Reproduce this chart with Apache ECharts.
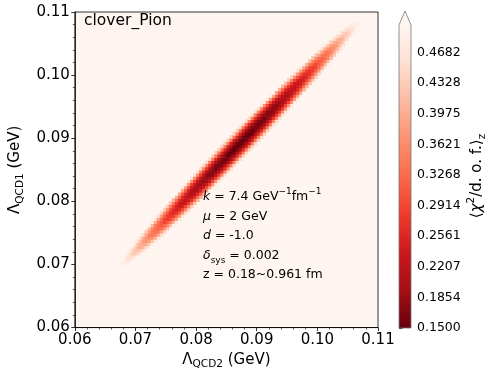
<!DOCTYPE html>
<html>
<head>
<meta charset="utf-8">
<title>clover_Pion chi2</title>
<script src="https://cdn.jsdelivr.net/npm/echarts@6/dist/echarts.min.js"></script>
<style>
  html, body { margin: 0; padding: 0; background: #fff; }
</style>
</head>
<body>
<div id="main" style="width: 491px; height: 375px;"></div>
<script type="text/javascript">
// axis ranges and ticks
var lambda2Range = [0.06, 0.11];
var lambda1Range = [0.06, 0.11];
var colorbarTicks = [0.1500, 0.1854, 0.2207, 0.2561, 0.2914, 0.3268, 0.3621, 0.3975, 0.4328, 0.4682];
var chiRange = [0.15, 0.5];

// matplotlib Reds_r
var redsR = ['#67000d', '#a50f15', '#cb181d', '#ef3b2c', '#fb6a4a', '#fc9272', '#fcbba1', '#fee0d2', '#fff5f0'];

// chi2 map, on a 0.0005 GeV grid.
// row r has Lambda_QCD1 from 0.0695 + r*cell, its first value sits in column rowStart[r]
// (Lambda_QCD2 = 0.06 + col*cell). Cells that are not listed are above the colour range.
var cell = 0.0005;
var firstRowLambda1 = 0.0695;
var rowStart = [15,15,16,16,17,18,19,19,20,21,22,23,24,24,25,26,27,28,29,30,31,32,33,
  33,34,35,36,37,38,39,40,41,42,43,44,45,46,47,48,49,50,51,52,53,54,55,56,57,58,59,60,61,62,63,64,65,
  67,68,69,70,71,72,73,74,75,76,78,79,80,81,82,83,85,86,87,88,90,91,93];
var rowChi2 = [
  [.50],
  [.49,.48,.49],
  [.48,.46,.48],
  [.49,.46,.45,.46,.49],
  [.48,.44,.43,.44,.48],
  [.46,.43,.42,.43,.46],
  [.45,.41,.40,.41,.45],
  [.49,.43,.40,.39,.40,.43,.49],
  [.47,.42,.38,.37,.38,.42,.47],
  [.46,.40,.37,.36,.37,.40,.46],
  [.45,.39,.35,.34,.35,.39,.45],
  [.43,.38,.34,.33,.34,.38,.43],
  [.42,.36,.33,.32,.33,.36,.42],
  [.49,.41,.35,.32,.31,.32,.35,.41,.49],
  [.48,.40,.34,.31,.29,.31,.34,.40,.48],
  [.47,.39,.33,.29,.28,.29,.33,.39,.47],
  [.46,.38,.32,.28,.27,.28,.32,.38,.46],
  [.45,.37,.31,.27,.26,.27,.31,.37,.45],
  [.44,.36,.30,.26,.25,.26,.30,.36,.44],
  [.43,.35,.29,.25,.24,.25,.29,.35,.43],
  [.42,.34,.28,.24,.23,.24,.28,.34,.42],
  [.41,.33,.27,.24,.22,.24,.27,.33,.41],
  [.40,.32,.26,.23,.22,.23,.26,.32,.40],
  [.50,.39,.31,.26,.22,.21,.22,.26,.31,.39,.50],
  [.49,.39,.31,.25,.21,.20,.21,.25,.31,.39,.49],
  [.48,.38,.30,.24,.21,.20,.21,.24,.30,.38,.48],
  [.48,.37,.29,.24,.20,.19,.20,.24,.29,.37,.48],
  [.47,.37,.29,.23,.19,.18,.19,.23,.29,.37,.47],
  [.47,.36,.28,.22,.19,.18,.19,.22,.28,.36,.47],
  [.46,.36,.28,.22,.18,.17,.18,.22,.28,.36,.46],
  [.46,.35,.27,.21,.18,.17,.18,.21,.27,.35,.46],
  [.45,.35,.27,.21,.18,.16,.18,.21,.27,.35,.45],
  [.45,.35,.27,.21,.17,.16,.17,.21,.27,.35,.45],
  [.45,.34,.26,.20,.17,.16,.17,.20,.26,.34,.45],
  [.45,.34,.26,.20,.17,.16,.17,.20,.26,.34,.45],
  [.44,.34,.26,.20,.17,.15,.17,.20,.26,.34,.44],
  [.44,.34,.26,.20,.16,.15,.16,.20,.26,.34,.44],
  [.44,.34,.26,.20,.16,.15,.16,.20,.26,.34,.44],
  [.44,.34,.25,.20,.16,.15,.16,.20,.25,.34,.44],
  [.44,.34,.25,.20,.16,.15,.16,.20,.25,.34,.44],
  [.44,.34,.25,.20,.16,.15,.16,.20,.25,.34,.44],
  [.44,.34,.26,.20,.16,.15,.16,.20,.26,.34,.44],
  [.44,.34,.26,.20,.16,.15,.16,.20,.26,.34,.44],
  [.44,.34,.26,.20,.17,.15,.17,.20,.26,.34,.44],
  [.45,.34,.26,.20,.17,.16,.17,.20,.26,.34,.45],
  [.45,.34,.26,.20,.17,.16,.17,.20,.26,.34,.45],
  [.45,.35,.27,.21,.17,.16,.17,.21,.27,.35,.45],
  [.45,.35,.27,.21,.18,.16,.18,.21,.27,.35,.45],
  [.46,.35,.27,.21,.18,.17,.18,.21,.27,.35,.46],
  [.46,.36,.28,.22,.18,.17,.18,.22,.28,.36,.46],
  [.47,.36,.28,.22,.19,.18,.19,.22,.28,.36,.47],
  [.47,.37,.29,.23,.19,.18,.19,.23,.29,.37,.47],
  [.48,.37,.29,.24,.20,.19,.20,.24,.29,.37,.48],
  [.48,.38,.30,.24,.21,.20,.21,.24,.30,.38,.48],
  [.49,.39,.31,.25,.21,.20,.21,.25,.31,.39,.49],
  [.50,.39,.31,.26,.22,.21,.22,.26,.31,.39,.50],
  [.40,.32,.26,.23,.22,.23,.26,.32,.40],
  [.41,.33,.27,.24,.22,.24,.27,.33,.41],
  [.42,.34,.28,.24,.23,.24,.28,.34,.42],
  [.43,.35,.29,.25,.24,.25,.29,.35,.43],
  [.44,.36,.30,.26,.25,.26,.30,.36,.44],
  [.45,.37,.31,.27,.26,.27,.31,.37,.45],
  [.46,.38,.32,.28,.27,.28,.32,.38,.46],
  [.47,.39,.33,.29,.28,.29,.33,.39,.47],
  [.48,.40,.34,.31,.29,.31,.34,.40,.48],
  [.49,.41,.35,.32,.31,.32,.35,.41,.49],
  [.42,.36,.33,.32,.33,.36,.42],
  [.43,.38,.34,.33,.34,.38,.43],
  [.45,.39,.35,.34,.35,.39,.45],
  [.46,.40,.37,.36,.37,.40,.46],
  [.47,.42,.38,.37,.38,.42,.47],
  [.49,.43,.40,.39,.40,.43,.49],
  [.45,.41,.40,.41,.45],
  [.46,.43,.42,.43,.46],
  [.48,.44,.43,.44,.48],
  [.49,.46,.45,.46,.49],
  [.48,.46,.48],
  [.49,.48,.49],
  [.50]
];

var font = 'DejaVu Sans';

var cells = [];
rowChi2.forEach(function (vals, r) {
  vals.forEach(function (v, c) {
    cells.push([lambda2Range[0] + (rowStart[r] + c) * cell, firstRowLambda1 + r * cell, v]);
  });
});

function renderCell(params, api) {
  var x = api.value(0), y = api.value(1);
  var p0 = api.coord([x, y]);
  var p1 = api.coord([x + cell, y + cell]);
  return {
    type: 'rect',
    shape: { x: p0[0], y: p1[1], width: p1[0] - p0[0] + 0.6, height: p0[1] - p1[1] + 0.6 },
    style: { fill: api.visual('color') }
  };
}

var axisBlack = { color: '#000', width: 0.8 };
var nameRich = {
  m: { fontFamily: font, fontSize: 15, color: '#000', lineHeight: 20 },
  s: { fontFamily: font, fontSize: 10.5, color: '#000', lineHeight: 20, verticalAlign: 'bottom' }
};

function mainAxis(range, name, gap, rotate) {
  return {
    type: 'value', gridIndex: 0, min: range[0], max: range[1], interval: 0.01,
    name: name, nameLocation: 'middle', nameGap: gap, nameRotate: rotate,
    nameTextStyle: { rich: nameRich },
    axisLine: { show: true, lineStyle: axisBlack },
    axisTick: { show: true, length: 3.5, lineStyle: axisBlack },
    minorTick: { show: true, splitNumber: 5, length: 2, lineStyle: { color: '#000', width: 0.6 } },
    axisLabel: {
      fontFamily: font, fontSize: 15, color: '#000', margin: 5,
      formatter: function (v) { return v.toFixed(2); }
    },
    splitLine: { show: false }
  };
}

var cbar = { left: 399, top: 25, width: 12, height: 303, tip: 14 };

var myChart = echarts.init(document.getElementById('main'));

var option = {
  animation: false,
  backgroundColor: '#fff',
  grid: [
    { left: 65, top: 12, width: 313, height: 317, show: true,
      backgroundColor: redsR[redsR.length - 1], borderColor: '#000', borderWidth: 0.8 },
    { left: cbar.left, top: cbar.top, width: cbar.width, height: cbar.height }
  ],
  xAxis: [
    mainAxis(lambda2Range, '{m|Λ}{s|QCD2}{m| (GeV)}', 16, 0),
    { type: 'value', gridIndex: 1, show: false, min: 0, max: 1 }
  ],
  yAxis: [
    mainAxis(lambda1Range, '{m|Λ}{s|QCD1}{m| (GeV)}', 38, 90),
    {
      type: 'value', gridIndex: 1, position: 'right', min: chiRange[0], max: chiRange[1],
      axisLine: { show: false },
      axisTick: { show: true, length: 3.5, customValues: colorbarTicks, lineStyle: axisBlack },
      axisLabel: {
        customValues: colorbarTicks, fontFamily: font, fontSize: 12.5, color: '#000', margin: 6,
        formatter: function (v) { return v.toFixed(4); }
      },
      splitLine: { show: false }
    }
  ],
  visualMap: {
    type: 'continuous', show: false, seriesIndex: 0, dimension: 2,
    min: chiRange[0], max: chiRange[1],
    inRange: { color: redsR },
    outOfRange: { color: redsR[redsR.length - 1] }
  },
  series: [{
    type: 'custom',
    xAxisIndex: 0, yAxisIndex: 0,
    renderItem: renderCell,
    encode: { x: 0, y: 1 },
    clip: true,
    silent: true,
    data: cells
  }],
  graphic: [
    {
      type: 'rect', silent: true, z: 1,
      shape: { x: cbar.left, y: cbar.top, width: cbar.width, height: cbar.height },
      style: {
        fill: new echarts.graphic.LinearGradient(0, 1, 0, 0, redsR.map(function (c, i) {
          return { offset: i / (redsR.length - 1), color: c };
        }))
      }
    },
    {
      type: 'polygon', silent: true, z: 2,
      shape: { points: [
        [cbar.left, cbar.top + cbar.height], [cbar.left, cbar.top],
        [cbar.left + cbar.width / 2, cbar.top - cbar.tip], [cbar.left + cbar.width, cbar.top],
        [cbar.left + cbar.width, cbar.top + cbar.height]
      ] },
      style: { fill: 'none', stroke: '#777', lineWidth: 0.8 }
    },
    {
      type: 'polygon', silent: true, z: 1,
      shape: { points: [
        [cbar.left, cbar.top], [cbar.left + cbar.width / 2, cbar.top - cbar.tip], [cbar.left + cbar.width, cbar.top]
      ] },
      style: { fill: redsR[redsR.length - 1] }
    },
    {
      type: 'text', silent: true, z: 10, x: 84, y: 21,
      style: { text: 'clover_Pion', fontFamily: font, fontSize: 15.5, fill: '#000', verticalAlign: 'middle' }
    },
    {
      type: 'text', silent: true, z: 10, x: 203, y: 187,
      style: {
        text: '{i|k} = 7.4 GeV{sup|−1}fm{sup|−1}\n{i|μ} = 2 GeV\n{i|d} = -1.0\n{i|δ}{sub|sys} = 0.002\nz = 0.18~0.961 fm',
        fontFamily: font, fontSize: 12.5, fill: '#000', lineHeight: 19.5, verticalAlign: 'top',
        rich: {
          i: { fontFamily: font, fontSize: 12.5, fontStyle: 'italic', lineHeight: 19.5 },
          sup: { fontFamily: font, fontSize: 9, lineHeight: 19.5, verticalAlign: 'top' },
          sub: { fontFamily: font, fontSize: 9, lineHeight: 19.5, verticalAlign: 'bottom' }
        }
      }
    },
    {
      type: 'text', silent: true, z: 10, x: 477, y: 176, rotation: Math.PI / 2,
      style: {
        text: '{m|⟨}{i|χ}{sup|2}{m|/d. o. f.⟩}{sub|z}',
        fill: '#000', align: 'center', verticalAlign: 'middle',
        rich: {
          m: { fontFamily: font, fontSize: 15, lineHeight: 22 },
          i: { fontFamily: font, fontSize: 15, fontStyle: 'italic', lineHeight: 22 },
          sup: { fontFamily: font, fontSize: 10.5, lineHeight: 22, verticalAlign: 'top' },
          sub: { fontFamily: font, fontSize: 10.5, lineHeight: 22, verticalAlign: 'bottom' }
        }
      }
    }
  ]
};

myChart.setOption(option);
</script>
</body>
</html>
